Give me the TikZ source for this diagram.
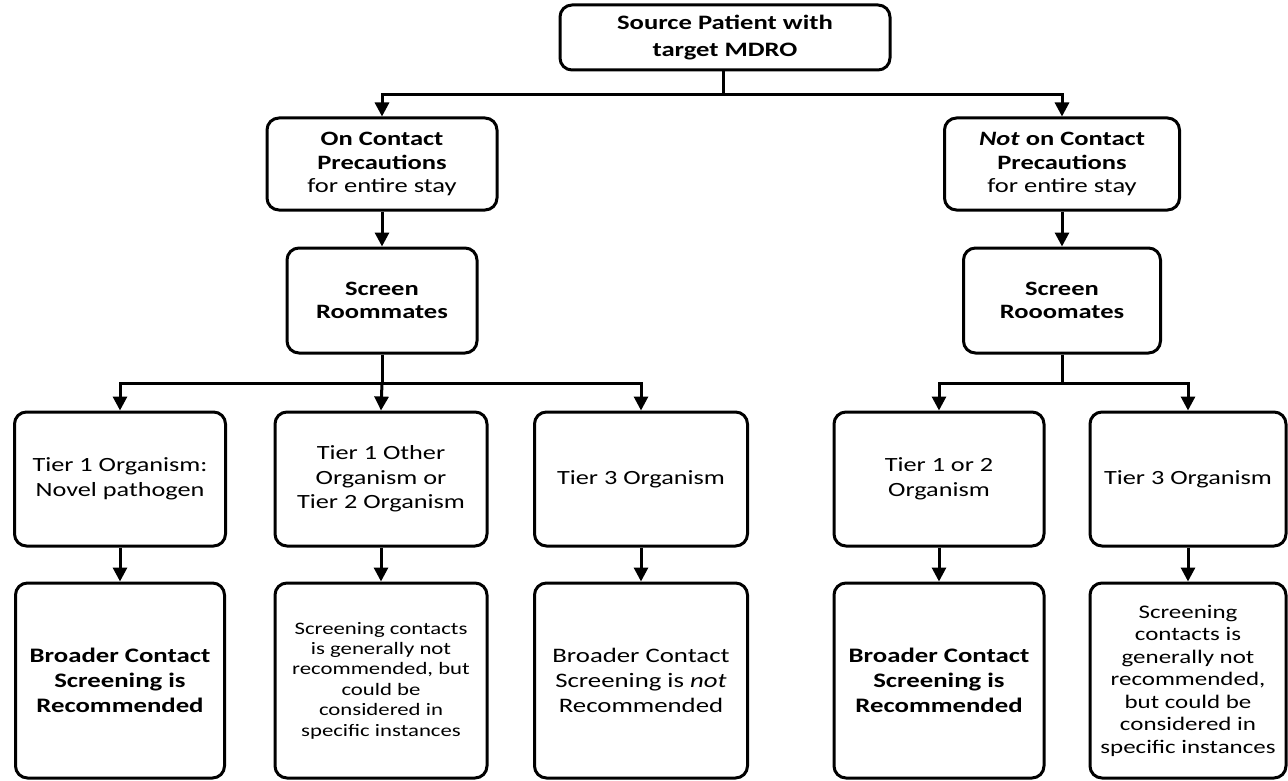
\documentclass[tikz,border=0pt]{standalone}
\usepackage{fontspec}
\setmainfont{Carlito}[FakeStretch=1.3]
\usetikzlibrary{arrows.meta}
\tikzset{
  box/.style={draw=black, line width=3pt, rounded corners=12pt, align=center, inner sep=0pt, fill=white},
  conn/.style={line width=3pt},
  arr/.style={line width=3pt, -{Triangle[width=14pt,length=14pt]}},
  fsA/.style={font=\fontsize{20.5}{27}\selectfont},
  fsB/.style={font=\fontsize{20.4}{23.5}\selectfont},
  fsT/.style={font=\fontsize{20.2}{24.5}\selectfont},
  fsC/.style={font=\fontsize{20.6}{25}\selectfont},
  fsD/.style={font=\fontsize{17.5}{20.4}\selectfont},
  fsE/.style={font=\fontsize{19.2}{22.5}\selectfont},
}
\begin{document}
\begin{tikzpicture}[x=1pt,y=-1pt]
\useasboundingbox[fill=white] (0,0) rectangle (1288,781);
% top
\node[box, fsA, minimum width=330pt, minimum height=65pt] (src) at (725,37.5) {\textbf{Source Patient with}\\\textbf{target MDRO}};
% level 2
\node[box, fsB, minimum width=230pt, minimum height=92pt] (onc) at (382,164) {\textbf{On Contact}\\\textbf{Precautions}\\for entire stay};
\node[box, fsB, minimum width=235pt, minimum height=92pt] (notc) at (1062,164) {\textbf{\textit{Not} on Contact}\\\textbf{Precautions}\\for entire stay};
% level 3
\node[box, fsB, minimum width=190pt, minimum height=105pt] (sra) at (382,300.5) {\textbf{Screen}\\\textbf{Roommates}};
\node[box, fsB, minimum width=197pt, minimum height=105pt] (srb) at (1062,300.5) {\textbf{Screen}\\\textbf{Rooomates}};
% level 4
\node[box, fsT, minimum width=211pt, minimum height=134pt] (ta) at (120,479) {Tier 1 Organism:\\Novel pathogen};
\node[box, fsT, minimum width=212pt, minimum height=134pt] (tb) at (381,479) {Tier 1 Other\\Organism or\\Tier 2 Organism};
\node[box, fsT, minimum width=213pt, minimum height=134pt] (tc) at (641,479) {Tier 3 Organism};
\node[box, fsT, minimum width=210pt, minimum height=134pt] (td) at (939,479) {Tier 1 or 2\\Organism};
\node[box, fsT, minimum width=196pt, minimum height=134pt] (te) at (1188,479) {Tier 3 Organism};
% level 5
\node[box, fsC, minimum width=209pt, minimum height=195pt] (ra) at (120,680.5) {\textbf{Broader Contact}\\\textbf{Screening is}\\\textbf{Recommended}};
\node[box, fsD, minimum width=212pt, minimum height=195pt] (rb) at (381,680.5) {Screening contacts\\is generally not\\recommended, but\\could be\\considered in\\specific instances};
\node[box, fsC, minimum width=213pt, minimum height=195pt] (rc) at (641,680.5) {Broader Contact\\Screening is \textit{not}\\Recommended};
\node[box, fsC, minimum width=210pt, minimum height=195pt] (rd) at (939,680.5) {\textbf{Broader Contact}\\\textbf{Screening is}\\\textbf{Recommended}};
\node[box, fsE, minimum width=196pt, minimum height=195pt] (re) at (1188,680.5) {Screening\\contacts is\\generally not\\recommended,\\but could be\\considered in\\specific instances};
% junctions
\coordinate (j1) at (723,95);
\coordinate (j2) at (382,383);
\coordinate (j3) at (1062,383);
% connectors
\draw[conn] (src.south -| j1) -- (j1);
\draw[arr] (j1) -| (onc.north);
\draw[arr] (j1) -| (notc.north);
\draw[arr] (onc) -- (sra);
\draw[arr] (notc) -- (srb);
\draw[conn] (sra.south) -- (j2);
\draw[arr] (j2) -| (ta.north);
\draw[arr] (j2) -- (tb.north);
\draw[arr] (j2) -| (tc.north);
\draw[conn] (srb.south) -- (j3);
\draw[arr] (j3) -| (td.north);
\draw[arr] (j3) -| (te.north);
\draw[arr] (ta) -- (ra);
\draw[arr] (tb) -- (rb);
\draw[arr] (tc) -- (rc);
\draw[arr] (td) -- (rd);
\draw[arr] (te) -- (re);
\end{tikzpicture}
\end{document}
